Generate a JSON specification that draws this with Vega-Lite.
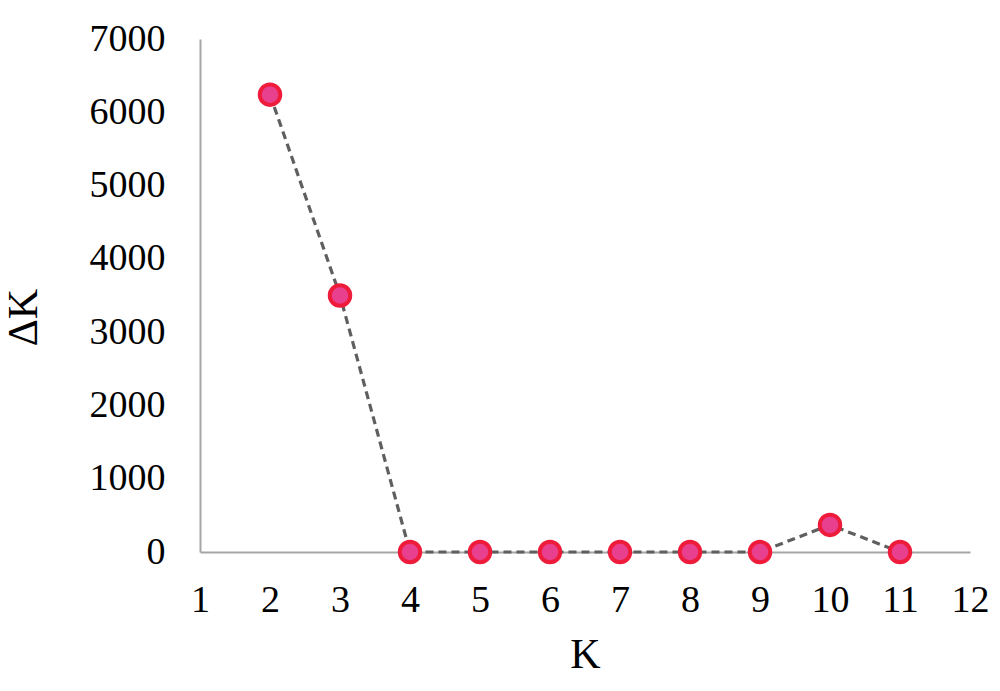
{
  "$schema": "https://vega.github.io/schema/vega-lite/v6.json",
  "width": 770,
  "height": 513,
  "autosize": "none",
  "padding": {"left": 200, "top": 39, "right": 30, "bottom": 139},
  "background": "white",
  "config": {
    "view": {"stroke": null},
    "font": "Liberation Serif",
    "axis": {
      "grid": false,
      "ticks": false,
      "tickSize": 0,
      "domainColor": "#a6a6a6",
      "domainWidth": 2,
      "labelFont": "Liberation Serif",
      "labelFontSize": 38,
      "labelColor": "#000000",
      "titleFont": "Liberation Serif",
      "titleFontSize": 42,
      "titleFontWeight": "normal",
      "titleColor": "#000000"
    }
  },
  "data": {
    "values": [
      {"K": 2, "dK": 6240},
      {"K": 3, "dK": 3500},
      {"K": 4, "dK": 0},
      {"K": 5, "dK": 0},
      {"K": 6, "dK": 0},
      {"K": 7, "dK": 0},
      {"K": 8, "dK": 0},
      {"K": 9, "dK": 0},
      {"K": 10, "dK": 370},
      {"K": 11, "dK": 0}
    ]
  },
  "encoding": {
    "x": {
      "field": "K",
      "type": "quantitative",
      "scale": {"domain": [1, 12], "nice": false, "zero": false},
      "axis": {"values": [1,2,3,4,5,6,7,8,9,10,11,12], "labelPadding": 29, "title": "K", "titlePadding": 15, "labelFlush": false}
    },
    "y": {
      "field": "dK",
      "type": "quantitative",
      "scale": {"domain": [0, 7000], "nice": false},
      "axis": {"values": [0,1000,2000,3000,4000,5000,6000,7000], "format": "d", "labelPadding": 35, "title": "ΔK", "titleX": -155, "titleY": 278, "titleAngle": -90, "titleBaseline": "bottom", "labelFlush": false}
    }
  },
  "layer": [
    {
      "mark": {"type": "line", "color": "#5f5f5f", "strokeWidth": 3.2, "strokeDash": [8, 5]}
    },
    {
      "mark": {"type": "point", "filled": true, "size": 420, "fill": "#e8408e", "stroke": "#ee1c3a", "strokeWidth": 4, "opacity": 1, "shape": "circle"}
    }
  ]
}
